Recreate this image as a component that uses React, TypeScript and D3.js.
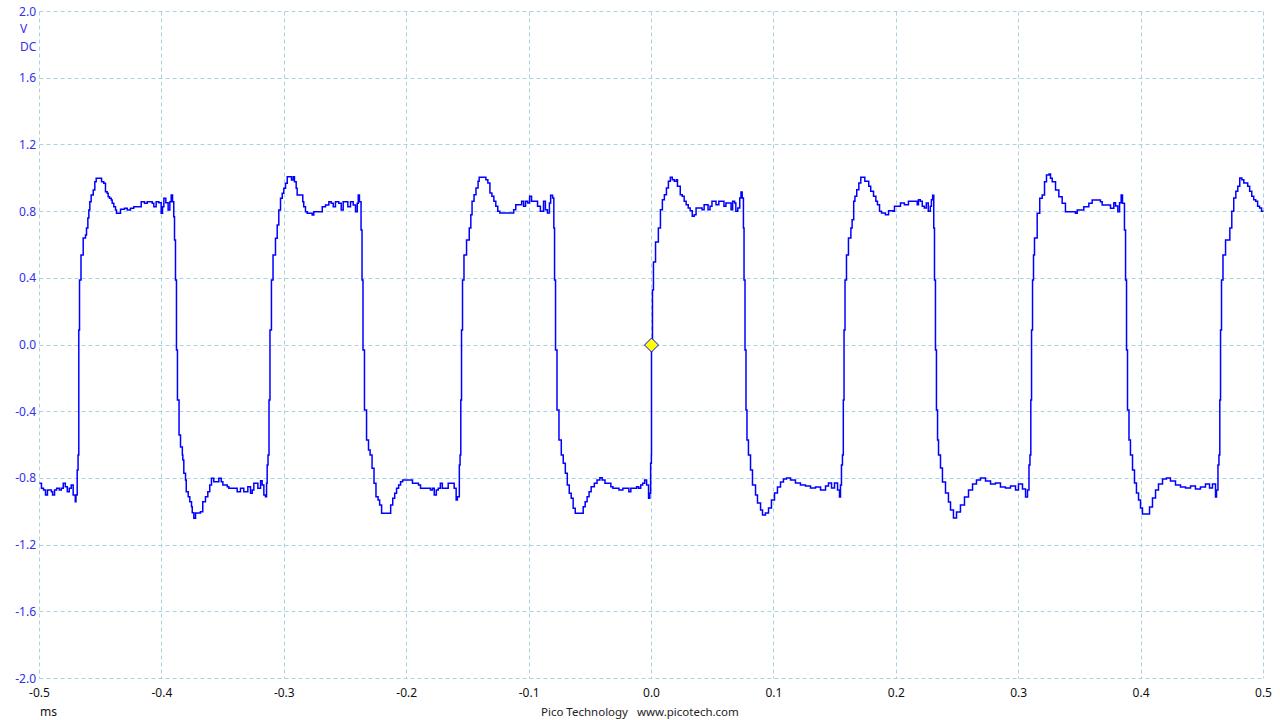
import React from 'react';
import * as d3 from 'd3';

// time in microseconds, value in volts
const wave0: [number, number][] = [
  [-500.0,-0.829],[-498.4,-0.859],[-496.7,-0.870],[-495.1,-0.900],[-493.5,-0.870],[-491.9,-0.870],[-490.3,-0.880],[-489.3,-0.900],[-487.7,-0.870],[-486.0,-0.859],[-483.8,-0.870],[-482.2,-0.859],[-480.6,-0.829],[-478.9,-0.850],[-477.3,-0.880],[-475.7,-0.859],[-474.1,-0.840],[-472.5,-0.900],[-470.8,-0.940],[-470.2,-0.900],[-469.2,-0.750],
];
const wave1: [number, number][] = [
  [-468.5,-0.660],[-467.9,0.090],[-467.3,0.390],[-466.1,0.540],[-464.3,0.642],[-462.4,0.660],[-461.6,0.702],[-460.5,0.762],[-459.7,0.810],[-458.9,0.859],[-457.8,0.900],[-456.1,0.930],[-454.8,0.979],[-453.7,1.000],[-450.7,1.000],[-449.3,0.979],[-447.5,0.970],[-446.1,0.919],[-444.7,0.910],[-443.9,0.889],[-442.8,0.880],[-441.4,0.870],[-440.6,0.850],[-439.3,0.829],[-437.9,0.810],[-437.1,0.790],[-435.2,0.790],[-433.8,0.814],[-430.6,0.820],[-428.3,0.810],[-425.7,0.820],[-423.0,0.829],[-418.1,0.829],[-416.9,0.859],[-414.2,0.850],[-412.0,0.859],[-407.9,0.850],[-406.6,0.829],[-404.7,0.859],[-402.5,0.853],[-400.6,0.790],[-399.5,0.829],[-398.4,0.880],[-396.8,0.853],[-394.9,0.810],[-393.5,0.859],[-392.4,0.900],[-391.3,0.859],[-390.3,0.769],[-389.7,0.630],[-388.9,0.390],[-388.1,-0.030],[-387.3,-0.330],[-386.0,-0.540],[-384.8,-0.612],[-383.3,-0.660],[-382.9,-0.690],[-382.1,-0.769],[-380.7,-0.810],[-380.1,-0.880],[-378.5,-0.910],[-377.2,-0.940],[-375.8,-0.970],[-375.2,-1.006],[-373.9,-1.039],[-372.5,-1.007],[-368.5,-1.000],[-366.6,-0.940],[-364.4,-0.910],[-362.5,-0.880],[-360.9,-0.840],[-359.5,-0.799],[-357.6,-0.820],[-353.5,-0.799],[-351.5,-0.820],[-350.2,-0.840],[-346.6,-0.850],[-345.3,-0.859],[-341.3,-0.859],[-338.5,-0.880],[-335.8,-0.859],[-333.1,-0.880],[-329.8,-0.850],[-327.6,-0.889],[-326.2,-0.870],[-324.9,-0.829],[-322.7,-0.829],[-321.6,-0.859],[-319.4,-0.814],[-318.1,-0.840],[-316.7,-0.900],[-315.4,-0.910],[-314.5,-0.829],[-314.0,-0.720],
];
const wave2: [number, number][] = [
  [-313.3,-0.660],[-312.5,-0.330],[-311.7,0.090],[-310.5,0.390],[-309.2,0.540],[-307.2,0.640],[-305.8,0.720],[-304.5,0.810],[-303.1,0.880],[-301.7,0.910],[-300.4,0.940],[-299.0,0.970],[-297.6,1.009],[-294.9,1.009],[-294.1,0.989],[-292.7,1.009],[-291.7,0.979],[-290.3,0.940],[-289.5,0.900],[-286.2,0.900],[-284.9,0.859],[-284.1,0.829],[-282.7,0.799],[-281.3,0.790],[-277.2,0.780],[-275.9,0.799],[-271.8,0.799],[-269.0,0.829],[-266.3,0.840],[-263.6,0.859],[-261.7,0.850],[-260.0,0.829],[-258.2,0.859],[-255.5,0.850],[-253.5,0.810],[-251.9,0.859],[-250.0,0.859],[-248.1,0.829],[-245.9,0.859],[-243.7,0.840],[-241.8,0.799],[-240.4,0.850],[-239.6,0.900],[-238.6,0.859],[-237.3,0.690],[-236.5,0.390],[-235.7,-0.030],[-234.5,-0.390],[-232.8,-0.570],[-231.2,-0.630],[-229.9,-0.660],[-228.3,-0.739],[-226.7,-0.829],[-225.1,-0.910],[-223.4,-0.930],[-222.1,-0.960],[-220.5,-1.009],[-214.7,-1.009],[-213.1,-0.960],[-211.4,-0.919],[-209.8,-0.889],[-208.3,-0.859],[-206.6,-0.840],[-205.0,-0.820],[-203.3,-0.810],[-196.9,-0.810],[-195.3,-0.829],[-190.4,-0.840],[-188.7,-0.859],[-182.3,-0.859],[-180.6,-0.870],[-179.0,-0.859],[-177.5,-0.900],[-175.8,-0.870],[-174.2,-0.859],[-172.5,-0.829],[-170.9,-0.859],[-167.7,-0.859],[-166.1,-0.829],[-162.8,-0.829],[-161.2,-0.859],[-159.6,-0.930],[-158.6,-0.910],[-157.0,-0.720],
];
const wave3: [number, number][] = [
  [-156.4,-0.660],[-155.8,-0.330],[-155.2,0.090],[-154.4,0.390],[-153.2,0.540],[-151.1,0.630],[-148.9,0.702],[-147.6,0.781],[-146.6,0.862],[-145.0,0.901],[-143.4,0.942],[-141.7,0.982],[-140.8,1.006],[-136.9,1.006],[-135.3,0.991],[-133.7,0.972],[-132.0,0.912],[-130.4,0.892],[-128.8,0.862],[-127.2,0.832],[-125.6,0.802],[-123.9,0.792],[-114.2,0.792],[-112.6,0.811],[-110.9,0.841],[-107.7,0.841],[-106.1,0.862],[-104.5,0.832],[-102.9,0.862],[-101.2,0.852],[-99.6,0.892],[-98.0,0.862],[-94.8,0.862],[-93.1,0.832],[-90.8,0.802],[-88.2,0.862],[-86.7,0.811],[-85.0,0.792],[-83.4,0.852],[-82.4,0.898],[-80.8,0.882],[-79.8,0.702],[-79.2,0.390],[-78.4,-0.030],[-77.2,-0.390],[-75.6,-0.570],[-73.7,-0.660],[-72.1,-0.709],[-70.4,-0.769],[-68.8,-0.840],[-67.2,-0.889],[-65.6,-0.919],[-64.0,-0.979],[-62.3,-1.009],[-57.4,-1.009],[-55.8,-0.970],[-54.2,-0.940],[-52.6,-0.910],[-51.0,-0.880],[-49.3,-0.850],[-46.7,-0.829],[-44.5,-0.810],[-42.2,-0.796],[-40.3,-0.810],[-38.0,-0.829],[-33.2,-0.850],[-31.5,-0.859],[-28.3,-0.859],[-26.6,-0.870],[-23.4,-0.859],[-20.2,-0.859],[-18.5,-0.880],[-16.9,-0.859],[-13.7,-0.859],[-12.1,-0.850],[-10.5,-0.859],[-8.8,-0.840],[-7.2,-0.829],[-5.6,-0.810],[-4.0,-0.840],[-2.4,-0.919],[-1.4,-0.889],[-0.7,-0.709],
];
const wave4: [number, number][] = [
  [-0.1,-0.660],[0.0,0.000],[0.8,0.330],[1.6,0.498],[3.3,0.618],[5.6,0.702],[7.3,0.811],[8.9,0.871],[10.5,0.901],[12.2,0.942],[13.8,0.982],[15.4,1.006],[17.0,0.991],[18.6,0.982],[20.3,0.991],[21.2,0.952],[23.5,0.901],[25.1,0.892],[26.7,0.862],[28.3,0.841],[30.0,0.822],[31.6,0.805],[33.3,0.772],[34.9,0.781],[36.4,0.822],[39.7,0.822],[41.3,0.811],[43.0,0.841],[46.2,0.811],[47.8,0.832],[49.4,0.862],[52.7,0.841],[55.0,0.862],[57.5,0.862],[59.2,0.832],[60.8,0.852],[64.1,0.852],[65.0,0.811],[66.3,0.862],[67.9,0.852],[68.9,0.802],[70.5,0.822],[72.1,0.882],[73.1,0.918],[74.1,0.882],[75.1,0.702],[75.6,0.390],[76.4,-0.030],[77.2,-0.390],[78.0,-0.570],[79.2,-0.660],[80.9,-0.750],[82.5,-0.840],[85.0,-0.900],[86.6,-0.948],[89.1,-0.990],[90.7,-1.019],[93.1,-1.007],[95.6,-0.978],[98.0,-0.930],[100.5,-0.888],[102.9,-0.852],[105.4,-0.822],[107.8,-0.804],[110.3,-0.798],[113.6,-0.810],[117.6,-0.828],[121.7,-0.840],[125.8,-0.846],[129.9,-0.858],[134.0,-0.852],[138.1,-0.870],[142.2,-0.846],[144.6,-0.828],[147.1,-0.858],[149.5,-0.828],[152.0,-0.870],[153.6,-0.912],[154.4,-0.840],[155.2,-0.720],
];
const wave5: [number, number][] = [
  [156.0,-0.660],[156.7,-0.330],[157.3,0.090],[158.1,0.390],[159.3,0.540],[160.9,0.642],[162.9,0.702],[163.9,0.751],[165.2,0.862],[166.2,0.892],[167.7,0.931],[169.4,0.972],[171.0,1.006],[173.3,1.006],[174.3,0.982],[175.9,0.982],[177.5,0.952],[179.1,0.922],[181.4,0.892],[183.3,0.862],[184.6,0.841],[186.3,0.802],[187.9,0.792],[191.1,0.781],[193.7,0.805],[197.0,0.802],[198.5,0.832],[201.8,0.832],[203.4,0.852],[206.6,0.841],[209.9,0.862],[214.8,0.862],[217.1,0.841],[218.1,0.871],[219.6,0.862],[221.2,0.832],[222.9,0.822],[224.5,0.852],[226.1,0.802],[227.8,0.832],[228.7,0.871],[229.7,0.898],[230.6,0.702],[231.2,0.390],[232.0,-0.030],[232.8,-0.390],[233.7,-0.570],[234.5,-0.660],[236.1,-0.738],[237.7,-0.822],[240.2,-0.888],[242.6,-0.942],[244.3,-0.990],[246.7,-1.037],[249.2,-1.001],[252.4,-0.960],[255.7,-0.912],[259.0,-0.870],[262.3,-0.834],[265.5,-0.810],[268.8,-0.798],[272.9,-0.816],[277.0,-0.834],[281.0,-0.828],[285.1,-0.852],[289.2,-0.858],[293.3,-0.846],[297.4,-0.870],[299.8,-0.834],[303.1,-0.864],[305.6,-0.912],[307.2,-0.870],[308.4,-0.720],
];
const wave6: [number, number][] = [
  [309.2,-0.660],[309.9,-0.330],[310.5,0.090],[311.3,0.390],[312.1,0.540],[312.9,0.642],[315.1,0.790],[317.2,0.880],[319.2,0.900],[321.1,0.979],[322.7,1.019],[324.8,1.025],[326.0,1.000],[327.4,0.979],[330.1,0.930],[332.8,0.889],[335.5,0.850],[338.2,0.799],[346.4,0.790],[347.8,0.810],[353.2,0.829],[357.3,0.850],[360.0,0.870],[366.8,0.859],[368.2,0.840],[372.3,0.840],[375.0,0.820],[377.7,0.853],[379.1,0.834],[381.0,0.799],[382.4,0.853],[383.7,0.900],[384.8,0.850],[386.4,0.690],[387.3,0.390],[388.1,-0.030],[388.9,-0.390],[390.1,-0.570],[391.3,-0.660],[393.0,-0.750],[394.6,-0.828],[396.2,-0.888],[397.9,-0.930],[399.5,-0.978],[401.1,-1.013],[404.4,-1.013],[406.9,-0.972],[409.3,-0.918],[411.8,-0.870],[414.2,-0.834],[417.5,-0.804],[420.7,-0.798],[424.0,-0.816],[428.1,-0.840],[432.2,-0.852],[436.3,-0.858],[440.4,-0.846],[444.4,-0.864],[448.5,-0.852],[452.6,-0.834],[455.9,-0.858],[458.3,-0.834],[460.8,-0.912],[461.6,-0.870],[462.8,-0.720],
];
const wave7: [number, number][] = [
  [463.6,-0.660],[464.3,-0.330],[464.9,0.090],[465.7,0.390],[466.9,0.540],[469.0,0.630],[472.5,0.702],[474.1,0.802],[475.7,0.882],[477.4,0.922],[479.0,0.952],[480.6,1.001],[482.3,0.991],[483.9,0.972],[485.5,0.972],[487.1,0.952],[488.7,0.922],[490.4,0.892],[492.0,0.871],[493.6,0.862],[495.2,0.832],[496.8,0.822],[498.4,0.802],[500.0,0.802],
];

const timeTicks = [-0.5, -0.4, -0.3, -0.2, -0.1, 0.0, 0.1, 0.2, 0.3, 0.4, 0.5];
const timeLabels = ['-0.5', '-0.4', '-0.3', '-0.2', '-0.1', '0.0', '0.1', '0.2', '0.3', '0.4', '0.5'];
const voltTicks = [2.0, 1.6, 1.2, 0.8, 0.4, 0.0, -0.4, -0.8, -1.2, -1.6, -2.0];
const voltLabels = ['2.0', '1.6', '1.2', '0.8', '0.4', '0.0', '-0.4', '-0.8', '-1.2', '-1.6', '-2.0'];
const triggerPoint: [number, number] = [0.0, 0.0];

const FONT = "'Segoe UI', 'Noto Sans', sans-serif";

export default function App() {
  const x = d3.scaleLinear().domain([-0.5, 0.5]).range([39.5, 1263.5]);
  const y = d3.scaleLinear().domain([-2, 2]).range([678.5, 11.5]);
  const pts: [number, number][] = [...wave0, ...wave1, ...wave2, ...wave3, ...wave4, ...wave5, ...wave6, ...wave7]
    .map(([us, v]) => [us / 1000, v]);
  const line = d3.line<[number, number]>()
    .x(d => x(d[0]))
    .y(d => y(d[1]))
    .curve(d3.curveStepAfter);
  const snap = (v: number) => Math.round(v - 0.5) + 0.5;
  const tx = x(triggerPoint[0]);
  const ty = y(triggerPoint[1]);
  const s = 7;
  const gridColor = '#a9d4df';
  return (
    <svg width={1280} height={720} style={{ position: 'absolute', left: 0, top: 0, background: '#fff' }}
      fontFamily={FONT}>
      <rect x={0} y={0} width={1280} height={720} fill="#ffffff" />
      {timeTicks.map(t => (
        <line key={'vx' + t} x1={snap(x(t))} x2={snap(x(t))} y1={y(2)} y2={y(-2)}
          stroke={gridColor} strokeWidth={1} strokeDasharray="4 3" />
      ))}
      {voltTicks.map(v => (
        <line key={'hy' + v} x1={x(-0.5)} x2={x(0.5)} y1={snap(y(v))} y2={snap(y(v))}
          stroke={gridColor} strokeWidth={1} strokeDasharray="4 3" />
      ))}
      {voltTicks.map((v, i) => (
        <text key={'yl' + v} x={36} y={y(v) + 4} textAnchor="end" fontSize={12} fill="#3030ee">{voltLabels[i]}</text>
      ))}
      <text x={20} y={33} fontSize={12} fill="#3a30e0">V</text>
      <text x={20} y={51} fontSize={12} fill="#3a30e0">DC</text>
      {timeTicks.map((t, i) => (
        <text key={'xl' + t} x={x(t)} y={697} textAnchor="middle" fontSize={12} fill="#111">{timeLabels[i]}</text>
      ))}
      <text x={40} y={716} fontSize={12} fill="#111">ms</text>
      <text x={628} y={716} textAnchor="end" fontSize={11.5} fill="#222">Pico Technology</text>
      <text x={637} y={716} fontSize={11.5} fill="#222">www.picotech.com</text>
      <path d={line(pts) || ''} fill="none" stroke="#0000ff" strokeWidth={1.5} />
      <path d={`M${tx},${ty - s}L${tx + s},${ty}L${tx},${ty + s}L${tx - s},${ty}Z`}
        fill="#ffff00" stroke="#0000ff" strokeWidth={1} />
    </svg>
  );
}
